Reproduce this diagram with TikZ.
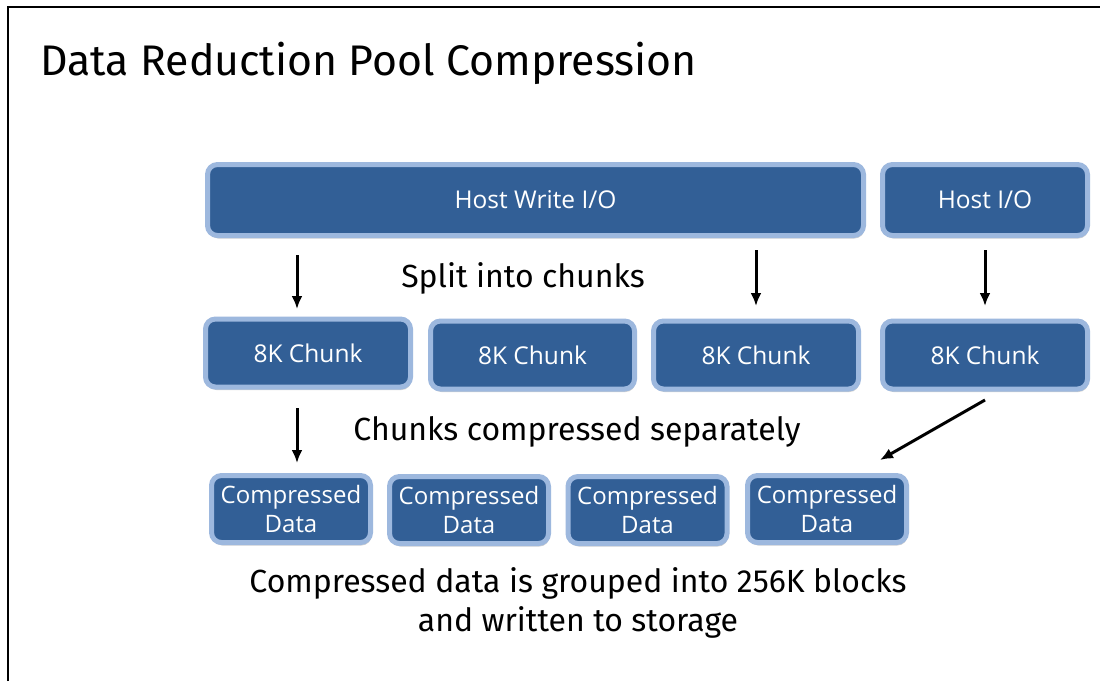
\documentclass[tikz,border=0pt]{standalone}
\usepackage{fontspec}
\setmainfont{Fira Sans}
\newfontfamily\boxfont{Open Sans}
\usetikzlibrary{arrows.meta,shadows}
\definecolor{boxfill}{RGB}{50,95,150}
\definecolor{boxline}{RGB}{157,184,222}
\tikzset{
  bluebox/.style={draw=boxline, line width=5pt, fill=boxfill, rounded corners=10pt,
    text=white, align=center, inner sep=0pt,
    drop shadow={shadow xshift=1pt, shadow yshift=-3pt, fill=black!35, opacity=0.5},
    font=\boxfont\fontsize{24.5}{29}\selectfont},
  cdbox/.style={bluebox, minimum width=159pt, minimum height=67pt,
    font=\boxfont\fontsize{24}{29}\selectfont},
  chunkbox/.style={bluebox, minimum width=205pt, minimum height=68pt},
  arr/.style={line width=3pt, -{Latex[length=13pt,width=11pt]}},
  caption/.style={text=black, inner sep=0pt, align=center, font=\fontsize{32}{39}\selectfont}
}
\begin{document}
\begin{tikzpicture}[x=1pt,y=-1pt]
\useasboundingbox (0,0) rectangle (1100,681);
\fill[white] (0,0) rectangle (1100,681);
\draw[line width=2.5pt] (8,681) -- (8,7) -- (1100,7);
\node[anchor=west, inner sep=0pt, font=\fontsize{42.8}{48}\selectfont] (title) at (40,63) {Data Reduction Pool Compression};

\node[bluebox, minimum width=656pt, minimum height=71pt] (hw) at (535.5,200) {Host Write I/O};
\node[bluebox, minimum width=205pt, minimum height=71pt] (hio) at (985,200) {Host I/O};

\node[chunkbox] (c1) at (308,353) {8K Chunk};
\node[chunkbox, minimum width=204pt] (c2) at (532.5,355) {8K Chunk};
\node[chunkbox] (c3) at (756,355) {8K Chunk};
\node[chunkbox] (c4) at (985,355) {8K Chunk};

\node[cdbox] (d1) at (291,509) {Compressed\\Data};
\node[cdbox] (d2) at (469,510) {Compressed\\Data};
\node[cdbox] (d3) at (647.5,510) {Compressed\\Data};
\node[cdbox] (d4) at (827,509) {Compressed\\Data};

\node[caption] (split) at (523,278) {Split into chunks};
\node[caption] (sep) at (577,432) {Chunks compressed separately};
\node[caption] (grp) at (578,603) {Compressed data is grouped into 256K blocks\\and written to storage};

\coordinate (a1s) at (297,255); \coordinate (a1e) at (297,309);
\coordinate (a2s) at (756,250); \coordinate (a2e) at (756,306);
\coordinate (a3s) at (985,250); \coordinate (a3e) at (985,306);
\coordinate (a4s) at (297,408); \coordinate (a4e) at (297,463);
\coordinate (a5s) at (985,400); \coordinate (a5e) at (880,460);
\draw[arr] (a1s) -- (a1e);
\draw[arr] (a2s) -- (a2e);
\draw[arr] (a3s) -- (a3e);
\draw[arr] (a4s) -- (a4e);
\draw[arr] (a5s) -- (a5e);
\end{tikzpicture}
\end{document}
